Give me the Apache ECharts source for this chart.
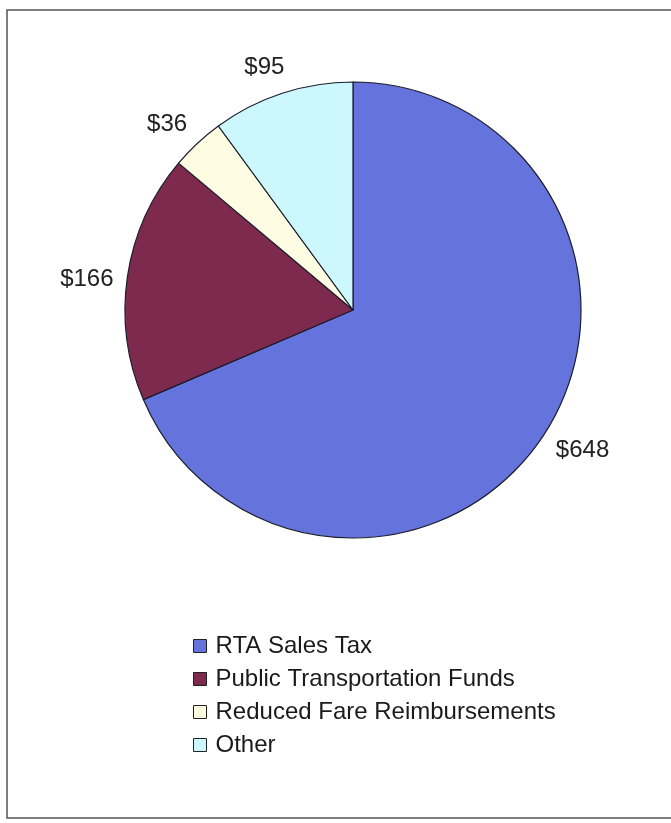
<!DOCTYPE html>
<html>
<head>
<meta charset="utf-8">
<script src="https://cdn.jsdelivr.net/npm/echarts@6/dist/echarts.min.js"></script>
<style>
  html, body { margin: 0; padding: 0; background: #ffffff; }
  #chart { width: 671px; height: 823px; }
</style>
</head>
<body>
<div id="chart"></div>
<script>
// Revenue sources (millions of dollars)
const categories = ['RTA Sales Tax', 'Public Transportation Funds', 'Reduced Fare Reimbursements', 'Other'];
const values = [648, 166, 36, 95];
const colors = ['#6573dc', '#7e2a4e', '#fffce4', '#ccf7fc'];

const chart = echarts.init(document.getElementById('chart'), null, { renderer: 'canvas' });

const cx = 353, cy = 310, radius = 228;
const labelGap = 12;
const labelTurn = -2 * Math.PI / 180;   // labels sit slightly counter-clockwise of slice middles
const total = values.reduce((a, b) => a + b, 0);

// Mid angle of each slice, measured clockwise from 12 o'clock
const midAngles = [];
let acc = 0;
values.forEach(v => {
  midAngles.push((acc + v / 2) / total * Math.PI * 2);
  acc += v;
});

// Place each value label just outside the rim: its box sits labelGap px
// beyond the circle along the slice's mid direction.
function placeLabel(params) {
  const a = midAngles[params.dataIndex] + labelTurn;
  const ux = Math.sin(a), uy = -Math.cos(a);
  const w = params.labelRect.width, h = params.labelRect.height;
  const t = radius + labelGap + (w / 2) * Math.abs(ux) + (h / 2) * Math.abs(uy);
  return {
    x: cx + ux * t,
    y: cy + uy * t,
    align: 'center',
    verticalAlign: 'middle'
  };
}

chart.setOption({
  backgroundColor: '#ffffff',
  animation: false,
  graphic: [{
    type: 'rect',
    shape: { x: 7, y: 10, width: 690, height: 808 },
    style: { fill: 'none', stroke: '#555555', lineWidth: 1.5 },
    silent: true,
    z: -1
  }],
  legend: {
    orient: 'vertical',
    left: 188,
    top: 629,
    icon: 'rect',
    itemWidth: 13,
    itemHeight: 13,
    itemGap: 9,
    textStyle: {
      fontFamily: 'Liberation Sans, Arial, sans-serif',
      fontSize: 24,
      color: '#1a1a1a',
      padding: [0, 0, 0, 4]
    },
    itemStyle: { borderColor: '#222222', borderWidth: 1 },
    data: categories
  },
  series: [{
    type: 'pie',
    center: [cx, cy],
    radius: radius,
    startAngle: 90,
    clockwise: true,
    avoidLabelOverlap: false,
    itemStyle: { borderColor: '#1c1c2c', borderWidth: 1.2 },
    label: {
      show: true,
      position: 'outside',
      formatter: p => '$' + p.value,
      fontFamily: 'Liberation Sans, Arial, sans-serif',
      fontSize: 24,
      color: '#222222'
    },
    labelLine: { show: false },
    labelLayout: placeLabel,
    emphasis: { disabled: true },
    data: categories.map((name, i) => ({
      name: name,
      value: values[i],
      itemStyle: { color: colors[i] }
    }))
  }]
});
</script>
</body>
</html>
